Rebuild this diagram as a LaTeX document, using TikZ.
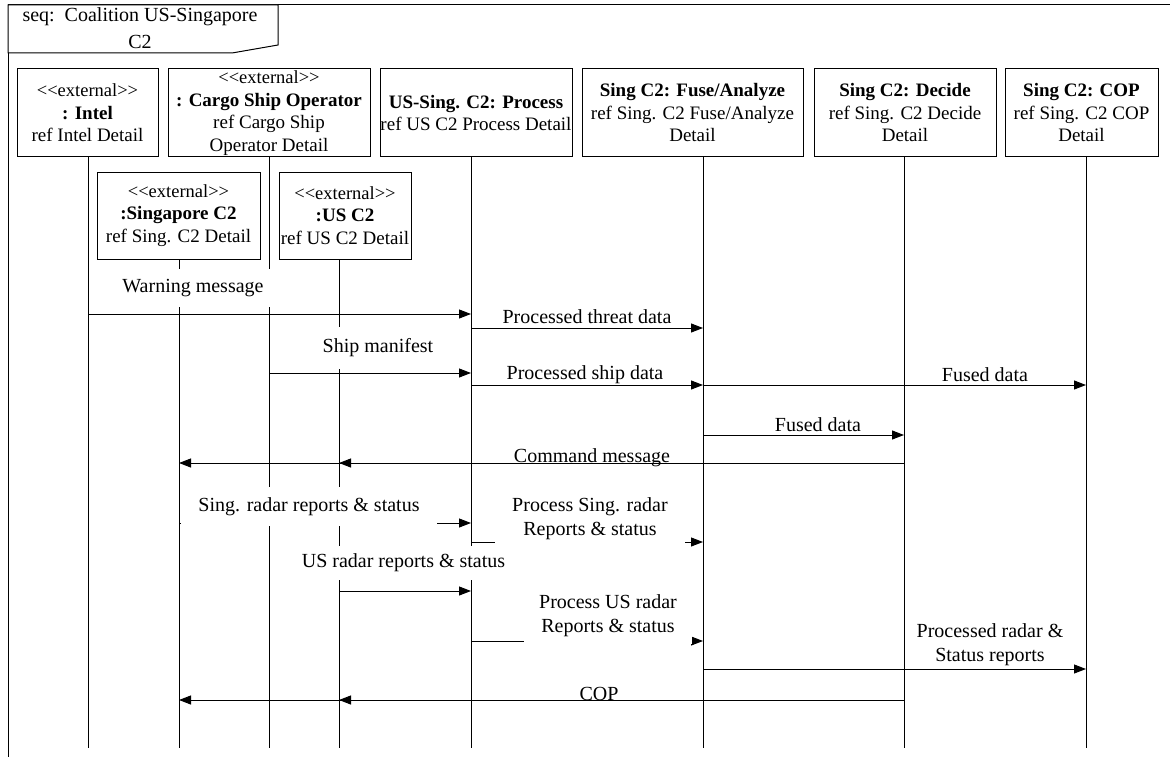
\documentclass[tikz,border=0pt]{standalone}
\usepackage{fontspec}
\setmainfont{Liberation Serif}
\usetikzlibrary{arrows.meta}
\newcommand{\extlabel}{{\fontsize{18.5}{22}\selectfont <\kern0pt<external>\kern0pt>}}
\begin{document}
\begin{tikzpicture}[x=1pt,y=-1pt,
  hdr/.style={draw, line width=1pt, inner sep=0pt, align=center, font=\fontsize{19}{22.5}\selectfont},
  life/.style={line width=1pt},
  msg/.style={line width=1pt, -{Triangle[length=12pt,width=9pt]}},
  lbl/.style={inner sep=0pt, align=center, font=\fontsize{20}{24}\selectfont},
  cover/.style={lbl, fill=white}]
\useasboundingbox (0,0) rectangle (1170,757);
% frame
\draw[line width=1pt] (8,757) -- (8,5) -- (1170,5);
\draw[line width=1pt, fill=white] (8,5) -- (278,5) -- (278,45) -- (232,53) -- (8,53) -- cycle;
\node[lbl, font=\fontsize{20}{27}\selectfont] (frametitle) at (140,28.5) {seq:\ \ Coalition US-Singapore\\C2};
% headers row 1
\node[hdr, minimum width=141, minimum height=88] (intel) at (87.5,113) {\extlabel\\\textbf{: Intel}\\ref Intel Detail};
\node[hdr, minimum width=202, minimum height=88] (cargo) at (269,113) {\extlabel\\\textbf{: Cargo Ship Operator}\\ref Cargo Ship\\Operator Detail};
\node[hdr, minimum width=192, minimum height=88] (proc) at (476,113) {\textbf{US-Sing. C2: Process}\\ref US C2 Process Detail};
\node[hdr, minimum width=221, minimum height=88] (fuse) at (692.5,113) {\textbf{Sing C2: Fuse/Analyze}\\ref Sing. C2 Fuse/Analyze\\Detail};
\node[hdr, minimum width=182, minimum height=88] (decide) at (905,113) {\textbf{Sing C2: Decide}\\ref Sing. C2 Decide\\Detail};
\node[hdr, minimum width=153, minimum height=88] (cop) at (1081.5,113) {\textbf{Sing C2: COP}\\ref Sing. C2 COP\\Detail};
% headers row 2
\node[hdr, minimum width=163, minimum height=87] (sing) at (178.5,215.5) {\extlabel\\\textbf{:Singapore C2}\\ref Sing. C2 Detail};
\node[hdr, minimum width=132, minimum height=87] (us) at (345,215.5) {\extlabel\\\textbf{:US C2}\\ref US C2 Detail};
% lifeline coordinates
\coordinate (lIntel) at (88,157);
\coordinate (lCargo) at (269,157);
\coordinate (lProc) at (471,157);
\coordinate (lFuse) at (703,157);
\coordinate (lDecide) at (904,157);
\coordinate (lCop) at (1086,157);
\coordinate (lSing) at (179,259);
\coordinate (lUs) at (339,259);
\coordinate (bottom) at (0,748);
\foreach \l in {lIntel,lCargo,lProc,lFuse,lDecide,lCop,lSing,lUs}
  \draw[life] (\l) -- (\l |- bottom);
% message rows
\coordinate (m1) at (0,314);
\coordinate (m2) at (0,328);
\coordinate (m3) at (0,373);
\coordinate (m4) at (0,385);
\coordinate (m5) at (0,435);
\coordinate (m6) at (0,463);
\coordinate (m7) at (0,523);
\coordinate (m8) at (0,542);
\coordinate (m9) at (0,591);
\coordinate (m10) at (0,641);
\coordinate (m11) at (0,669);
\coordinate (m12) at (0,700);
% messages
\draw[msg] (lIntel |- m1) -- (lProc |- m1);
\draw[msg] (lProc |- m2) -- (lFuse |- m2);
\draw[msg] (lCargo |- m3) -- (lProc |- m3);
\draw[msg] (lProc |- m4) -- (lFuse |- m4);
\draw[msg] (lFuse |- m4) -- (lCop |- m4);
\draw[msg] (lFuse |- m5) -- (lDecide |- m5);
\draw[msg] (lDecide |- m6) -- (lSing |- m6);
\draw[msg] (lDecide |- m6) -- (lUs |- m6);
\draw[msg] (lSing |- m7) -- (lProc |- m7);
\draw[msg] (lProc |- m8) -- (lFuse |- m8);
\draw[msg] (lUs |- m9) -- (lProc |- m9);
\draw[msg] (lProc |- m10) -- (lFuse |- m10);
\draw[msg] (lFuse |- m11) -- (lCop |- m11);
\draw[msg] (lDecide |- m12) -- (lSing |- m12);
\draw[msg] (lDecide |- m12) -- (lUs |- m12);
% labels
\node[cover, minimum width=160, minimum height=38] (t1) at (193,288) {Warning message};
\node[lbl] (t2) at (587,317) {Processed threat data};
\node[cover, minimum width=124, minimum height=42] (t3) at (378,348) {Ship manifest};
\node[lbl] (t4) at (585,375) {Processed ship data};
\node[lbl] (t5) at (985,375) {Fused data};
\node[lbl] (t6) at (818,425) {Fused data};
\node[lbl] (t7) at (592,458) {Command message};
\node[cover, minimum width=256, minimum height=39] (t8) at (309,506.5) {Sing. radar reports \& status};
\node[cover, minimum width=190, minimum height=56] (t9) at (590,519) {Process Sing. radar\\Reports \& status};
\node[cover, minimum width=215, minimum height=34] (t10) at (403.5,563) {US radar reports \& status};
\node[cover, minimum width=168, minimum height=56] (t11) at (608,616) {Process US radar\\Reports \& status};
\node[lbl] (t12) at (990,645) {Processed radar \&\\Status reports};
\node[lbl] (t13) at (599,694) {COP};
\end{tikzpicture}
\end{document}
